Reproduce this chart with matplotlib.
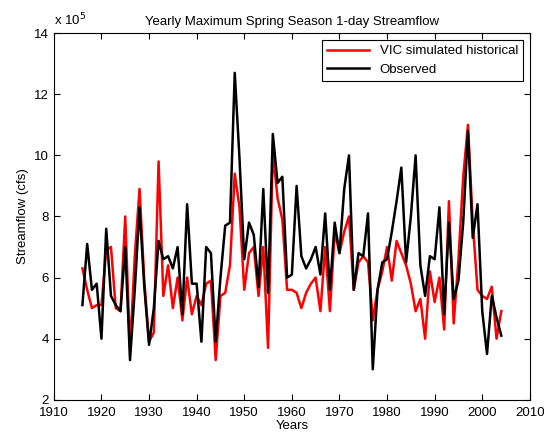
import matplotlib
matplotlib.use("Agg")
import matplotlib.pyplot as plt
import numpy as np

plt.rcParams['font.family'] = ['Liberation Sans', 'DejaVu Sans']

# years 1916-2004, streamflow in units of 1e5 cfs
years = np.arange(1916, 2005)

vic = [6.3, 5.6, 5.0, 5.1, 5.1, 6.9, 7.0, 5.0, 4.9, 8.0,
       3.6, 6.7, 8.9, 5.9, 3.9, 4.2, 9.8, 5.4, 6.4, 5.0,
       6.0, 4.6, 6.0, 4.8, 5.4, 5.1, 5.8, 5.9, 3.3, 5.4,
       5.5, 6.4, 9.4, 8.3, 5.6, 6.8, 7.0, 5.4, 7.0, 3.7,
       10.1, 8.6, 7.9, 5.6, 5.6, 5.5, 5.0, 5.5, 5.8, 6.0,
       4.9, 7.0, 4.9, 7.5, 6.8, 7.5, 8.0, 5.6, 6.5, 6.7,
       6.5, 4.6, 5.6, 6.2, 7.0, 5.9, 7.2, 6.8, 6.4, 5.8,
       4.9, 5.3, 4.0, 6.2, 5.2, 6.0, 4.3, 8.5, 4.5, 6.6,
       9.3, 11.0, 7.8, 5.6, 5.4, 5.3, 5.7, 4.0, 4.9]

observed = [5.1, 7.1, 5.6, 5.8, 4.0, 7.6, 5.4, 5.1, 4.9, 7.0,
            3.3, 5.6, 8.3, 5.7, 3.8, 5.0, 7.2, 6.6, 6.7, 6.3,
            7.0, 4.8, 8.4, 5.8, 5.8, 3.9, 7.0, 6.8, 3.9, 6.0,
            7.7, 7.8, 12.7, 9.9, 6.6, 7.8, 7.4, 5.7, 8.9, 5.5,
            10.7, 9.1, 9.3, 6.0, 6.1, 9.0, 6.7, 6.3, 6.6, 7.0,
            6.1, 8.1, 5.6, 7.8, 6.8, 8.9, 10.0, 5.6, 6.8, 6.7,
            8.1, 3.0, 5.6, 6.5, 6.6, 7.5, 8.5, 9.6, 6.5, 8.0,
            10.0, 6.4, 5.4, 6.7, 6.6, 8.3, 4.8, 7.8, 5.3, 5.9,
            7.8, 10.8, 7.3, 8.4, 4.9, 3.5, 5.4, 4.7, 4.1]

fig = plt.figure(figsize=(5.44, 4.36), dpi=100)
ax = fig.add_axes([0.099, 0.083, 0.875, 0.841])

ax.plot(years, vic, color='#ff0000', lw=1.8, label='VIC simulated historical')
ax.plot(years, observed, color='black', lw=1.8, label='Observed')

ax.set_xlim(1910, 2010)
ax.set_ylim(2, 14)
ax.set_xticks(np.arange(1910, 2011, 10))
ax.set_yticks(np.arange(2, 15, 2))
ax.tick_params(direction='in', top=True, right=True, labelsize=9.5, length=4)
ax.tick_params(axis='x', pad=5)
for s in ax.spines.values():
    s.set_linewidth(0.8)

ax.set_title('Yearly Maximum Spring Season 1-day Streamflow', fontsize=9.5)
ax.set_xlabel('Years', fontsize=9.5, labelpad=1)
ax.set_ylabel('Streamflow (cfs)', fontsize=9.5)
ax.text(0.0, 1.012, r'x 10$^5$', transform=ax.transAxes, fontsize=9.5,
        ha='left', va='bottom')

leg = ax.legend(loc='upper right', fontsize=9.5, fancybox=False,
                edgecolor='black', framealpha=1, borderaxespad=0.5,
                handlelength=3.2)
leg.get_frame().set_linewidth(0.8)

fig.savefig('out.png', dpi=100)
